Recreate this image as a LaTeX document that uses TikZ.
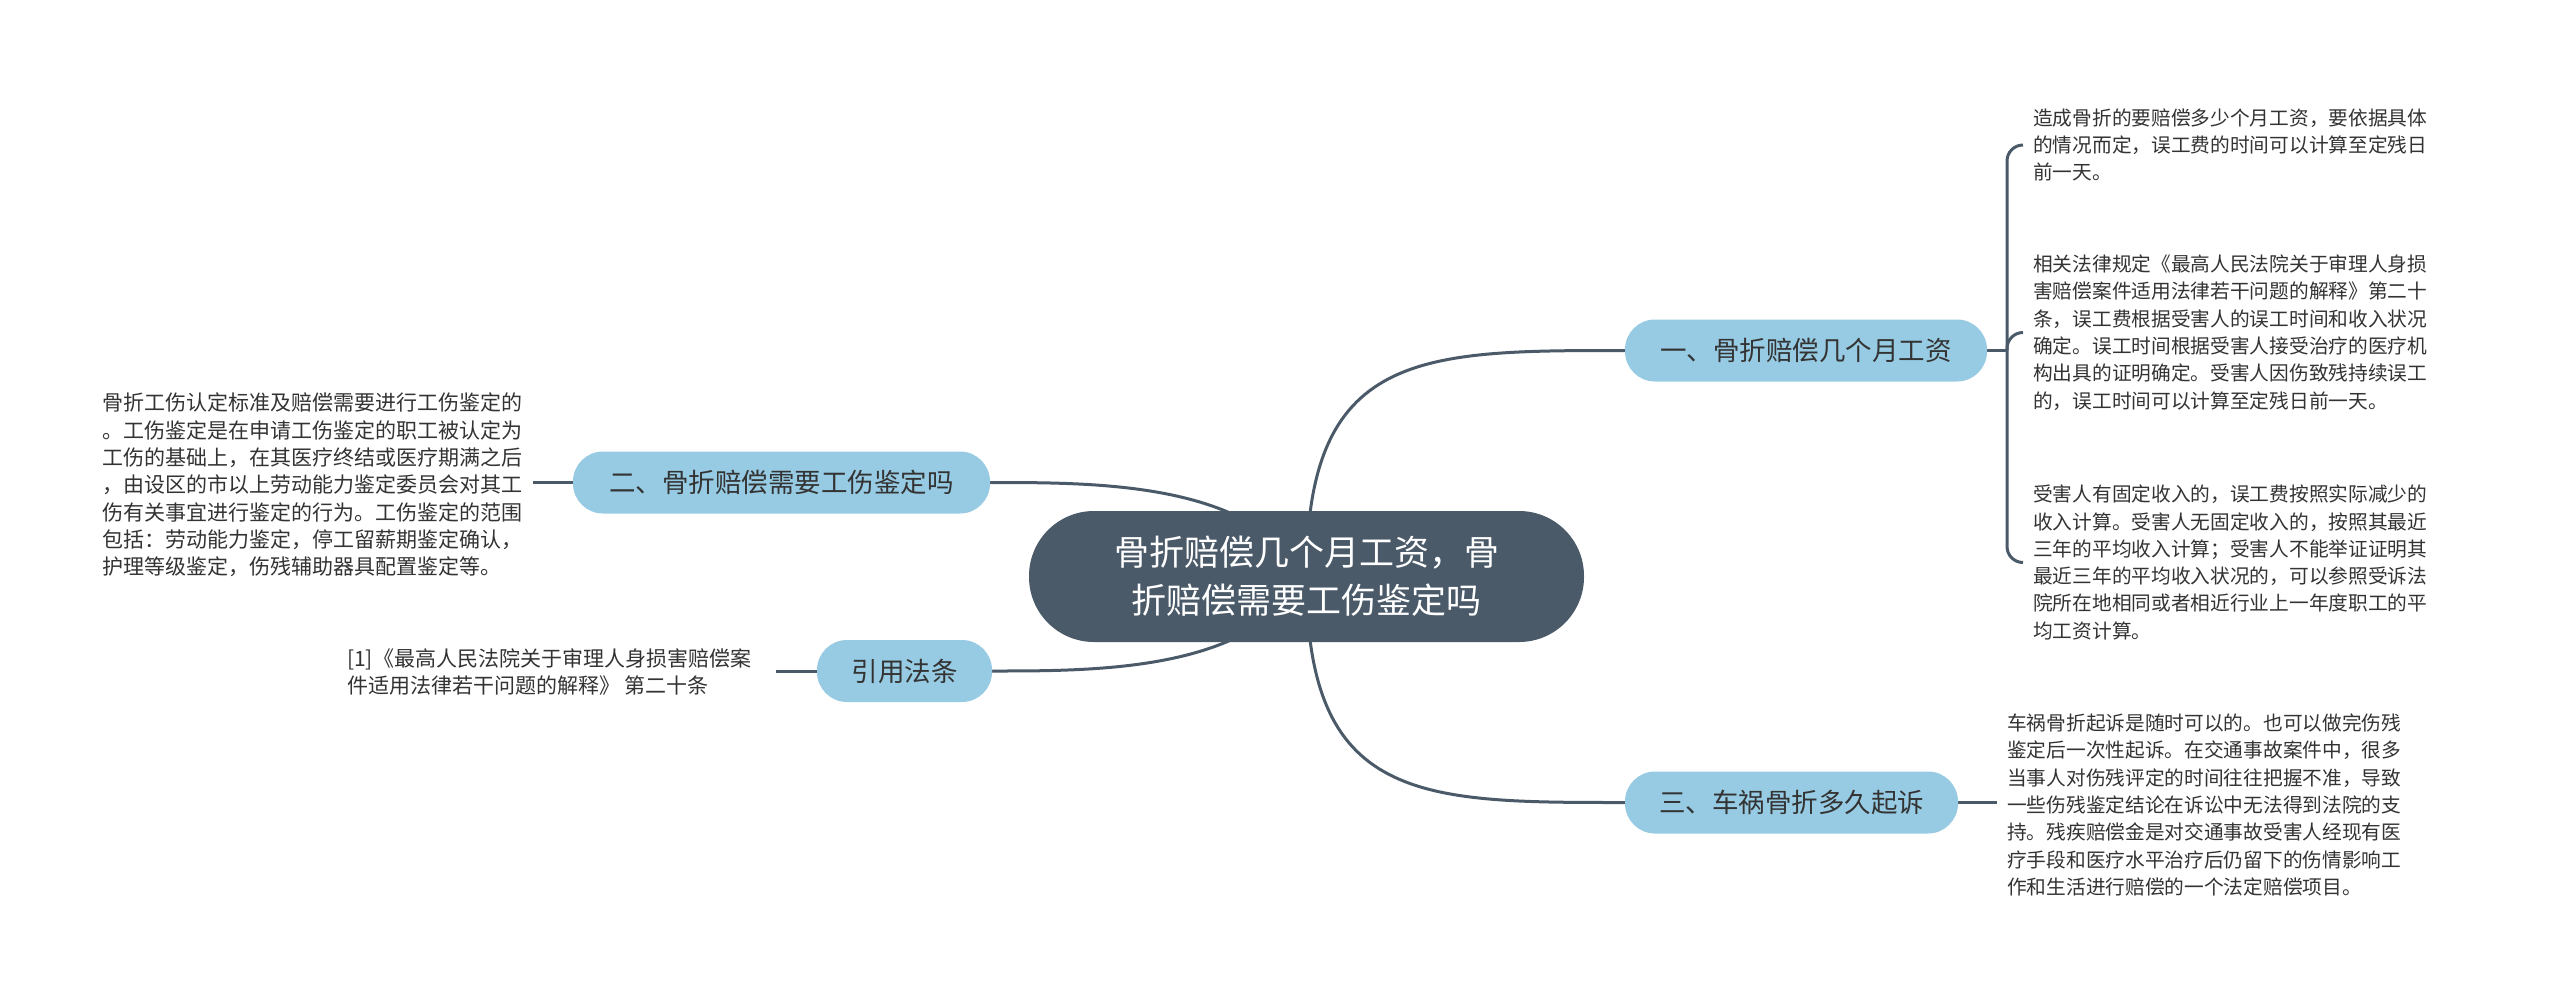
\documentclass[tikz,border=0pt]{standalone}
\usepackage{fontspec}
\setmainfont{Noto Sans CJK SC}
\usetikzlibrary{backgrounds}
\definecolor{dark}{HTML}{4B5A69}
\definecolor{pill}{HTML}{97CBE3}
\definecolor{txt}{HTML}{333333}
\begin{document}
\begin{tikzpicture}[x=1pt,y=-1pt,
  conn/.style={draw=dark,line width=3pt},
  central/.style={fill=dark,text=white,rounded corners=65pt,minimum width=555pt,minimum height=131pt,align=center,inner sep=0pt,font=\fontsize{35pt}{48pt}\selectfont},
  branch/.style={fill=pill,text=txt,rounded corners=30pt,minimum height=62pt,inner sep=0pt,font=\fontsize{26.5pt}{32pt}\selectfont},
  leaf/.style={text=txt,align=left,inner xsep=10pt,inner ysep=0pt,anchor=west,font=\fontsize{19.7pt}{27.3pt}\selectfont},
  leafl/.style={leaf,font=\fontsize{21pt}{27.3pt}\selectfont}]

\node[central] (c) at (1306.5,576.5) {骨折赔偿几个月工资，骨\\折赔偿需要工伤鉴定吗};
\node[branch,minimum width=362pt] (b1) at (1806,350.5) {一、骨折赔偿几个月工资};
\node[branch,minimum width=417pt] (b2) at (781.5,482.5) {二、骨折赔偿需要工伤鉴定吗};
\node[branch,minimum width=333pt] (b3) at (1791.5,802.5) {三、车祸骨折多久起诉};
\node[branch,minimum width=175pt] (b4) at (904.5,671) {引用法条};

\node[leaf] (l1) at (2023,145) {造成骨折的要赔偿多少个月工资，要依据具体\\的情况而定，误工费的时间可以计算至定残日\\前一天。};
\node[leaf] (l2) at (2023,332.5) {相关法律规定《最高人民法院关于审理人身损\\害赔偿案件适用法律若干问题的解释》第二十\\条，误工费根据受害人的误工时间和收入状况\\确定。误工时间根据受害人接受治疗的医疗机\\构出具的证明确定。受害人因伤致残持续误工\\的，误工时间可以计算至定残日前一天。};
\node[leaf] (l3) at (2023,562.5) {受害人有固定收入的，误工费按照实际减少的\\收入计算。受害人无固定收入的，按照其最近\\三年的平均收入计算；受害人不能举证证明其\\最近三年的平均收入状况的，可以参照受诉法\\院所在地相同或者相近行业上一年度职工的平\\均工资计算。};
\node[leaf] (l4) at (1997,805) {车祸骨折起诉是随时可以的。也可以做完伤残\\鉴定后一次性起诉。在交通事故案件中，很多\\当事人对伤残评定的时间往往把握不准，导致\\一些伤残鉴定结论在诉讼中无法得到法院的支\\持。残疾赔偿金是对交通事故受害人经现有医\\疗手段和医疗水平治疗后仍留下的伤情影响工\\作和生活进行赔偿的一个法定赔偿项目。};
\node[leafl] (l5) at (92,485) {骨折工伤认定标准及赔偿需要进行工伤鉴定的\\。工伤鉴定是在申请工伤鉴定的职工被认定为\\工伤的基础上，在其医疗终结或医疗期满之后\\，由设区的市以上劳动能力鉴定委员会对其工\\伤有关事宜进行鉴定的行为。工伤鉴定的范围\\包括：劳动能力鉴定，停工留薪期鉴定确认，\\护理等级鉴定，伤残辅助器具配置鉴定等。};
\node[leafl] (l6) at (337,672) {[1]《最高人民法院关于审理人身损害赔偿案\\件适用法律若干问题的解释》 第二十条};

\coordinate (j1) at (2007,350.5);
\coordinate (e5) at (533,482.5);
\coordinate (e6) at (776,671);

\begin{scope}[on background layer]
  \path[use as bounding box,fill=white] (0,0) rectangle (2560,999);
  \draw[conn] (c.center) .. controls (1306,350.5) and (1420,350.5) .. (b1.west);
  \draw[conn] (c.center) .. controls (1306,802.5) and (1420,802.5) .. (b3.west);
  \draw[conn] (c.center) .. controls (1250,482.5) and (1100,482.5) .. (b2.east);
  \draw[conn] (c.center) .. controls (1250,671) and (1100,671) .. (b4.east);
  \draw[conn] (b1.east) -- (j1);
  \draw[conn,rounded corners=16pt] (j1) |- (l1.west);
  \draw[conn,rounded corners=16pt] (j1) |- (l2.west);
  \draw[conn,rounded corners=16pt] (j1) |- (l3.west);
  \draw[conn] (b3.east) -- (b3.east -| l4.west);
  \draw[conn] (b2.west) -- (e5);
  \draw[conn] (b4.west) -- (e6);
\end{scope}
\end{tikzpicture}
\end{document}
